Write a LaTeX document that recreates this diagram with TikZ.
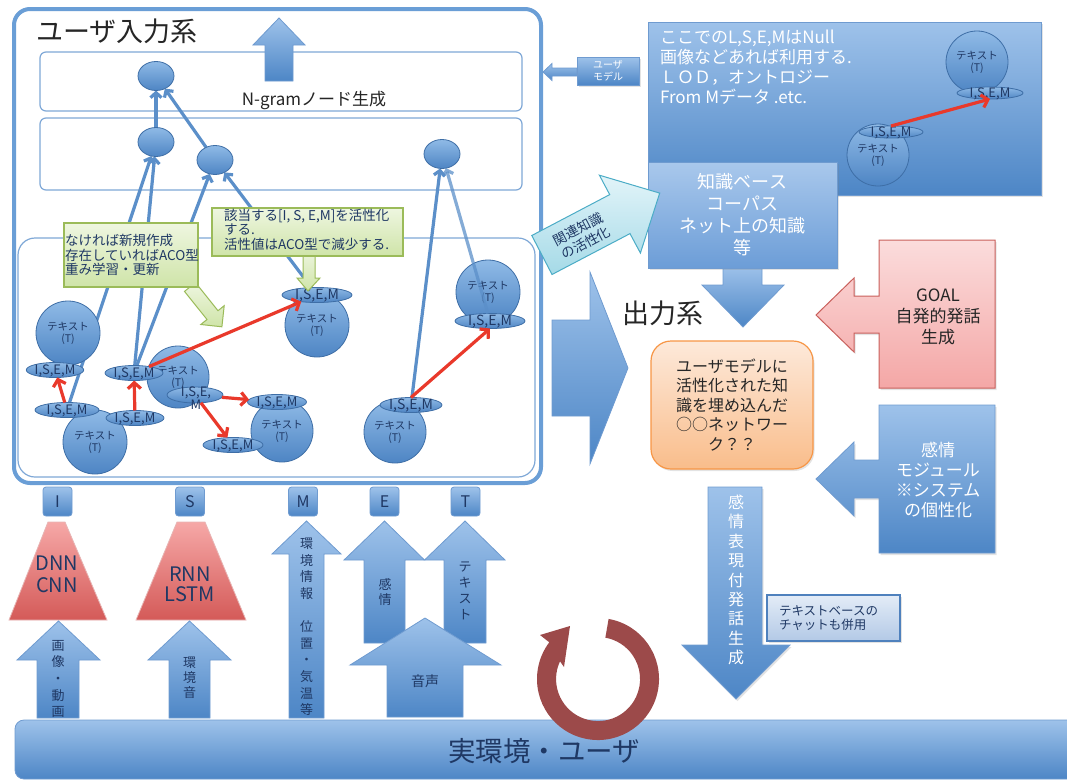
\documentclass[tikz,border=0pt]{standalone}
\usepackage{fontspec}
\setmainfont{Noto Sans CJK JP}
\usetikzlibrary{shapes.geometric,arrows.meta,shadows,calc}
\pgfdeclarelayer{bg}
\pgfdeclarelayer{links}
\pgfsetlayers{bg,links,main}

\definecolor{navy}{HTML}{1F3864}
\definecolor{darktext}{HTML}{262626}
\definecolor{frameblue}{HTML}{6A9ED6}
\definecolor{layeredge}{HTML}{7FA8D7}
\definecolor{linkblue}{HTML}{5B8FC9}
\definecolor{nodetop}{HTML}{8FBAE6}
\definecolor{nodebot}{HTML}{4E85C4}
\definecolor{nodeedge}{HTML}{3E6EA6}
\definecolor{boxtop}{HTML}{9EC2EA}
\definecolor{boxbot}{HTML}{4D86C6}
\definecolor{boxedge}{HTML}{6F9BD0}
\definecolor{kbtop}{HTML}{A9C8EC}
\definecolor{kbbot}{HTML}{6C9DD7}
\definecolor{redline}{HTML}{E9392B}
\definecolor{pinktop}{HTML}{FBDCDC}
\definecolor{pinkbot}{HTML}{F4A7A6}
\definecolor{pinkedge}{HTML}{C9605C}
\definecolor{trtop}{HTML}{F6A8A7}
\definecolor{trbot}{HTML}{D45A58}
\definecolor{tredge}{HTML}{E7B5B4}
\definecolor{greentop}{HTML}{EEF6E0}
\definecolor{greenbot}{HTML}{CFE4A8}
\definecolor{greenedge}{HTML}{9BBB59}
\definecolor{cyantop}{HTML}{E2F4F9}
\definecolor{cyanbot}{HTML}{A5DAE7}
\definecolor{cyanedge}{HTML}{4BACC6}
\definecolor{orangetop}{HTML}{FDE9DA}
\definecolor{orangebot}{HTML}{F9BD8B}
\definecolor{orangeedge}{HTML}{F79646}
\definecolor{chattop}{HTML}{E3ECF7}
\definecolor{chatbot}{HTML}{B3C9E6}
\definecolor{chatedge}{HTML}{4F81BD}
\definecolor{ringred}{HTML}{9C4A4A}

\tikzset{
  every node/.style={inner sep=0pt, outer sep=0pt},
  softshadow/.style={drop shadow={opacity=0.22, shadow xshift=1.5pt, shadow yshift=-2pt}},
  layerbox/.style={rectangle, draw=layeredge, line width=1.2pt, fill=white, rounded corners=6pt},
  bubble/.style={ellipse, minimum width=36pt, minimum height=29pt, top color=nodetop, bottom color=nodebot, draw=nodeedge, line width=0.8pt},
  textball/.style={circle, minimum size=#1, top color=nodetop, bottom color=nodebot, draw=nodeedge, line width=0.8pt, align=center, text=navy, font=\fontsize{10.5}{12}\selectfont},
  textball/.default=64pt,
  isem/.style={ellipse, minimum width=#1, minimum height=15pt, top color=nodetop, bottom color=nodebot, draw=nodeedge, line width=0.8pt, text=navy, font=\fontsize{13}{13}\selectfont, text height=8pt, text depth=0pt},
  isem/.default=60pt,
  link/.style={draw=linkblue, line width=3.2pt, -{Straight Barb[length=5pt,width=11pt]}},
  redarrow/.style={draw=redline, line width=3.2pt, -{Straight Barb[length=6pt,width=13pt]}},
  blockarrow/.style={top color=boxtop, bottom color=boxbot, draw=boxedge, line width=0.8pt, line join=miter},
  bluebox/.style={rectangle, top color=boxtop, bottom color=boxbot, draw=boxedge, line width=0.8pt},
  notebox/.style={rectangle, top color=greentop, bottom color=greenbot, draw=greenedge, line width=1.2pt},
  greenarrow/.style={top color=greentop, bottom color=greenbot, draw=greenedge, line width=1pt, line join=miter},
  vtext/.style={align=center, text=navy},
  tabbox/.style={rectangle, rounded corners=3pt, minimum width=29pt, minimum height=29pt, top color=boxtop, bottom color=boxbot, draw=boxedge, line width=0.8pt, text=navy, font=\fontsize{16}{16}\selectfont},
  trap/.style={top color=trtop, bottom color=trbot, draw=tredge, line width=0.8pt},
}

\begin{document}
\begin{tikzpicture}[x=1pt,y=-1pt]
\useasboundingbox (0,0) rectangle (1067,782);

% ===== user input system: frame and layers =====
\begin{pgfonlayer}{bg}
  \draw[line width=4pt, draw=frameblue, fill=white, rounded corners=16pt] (14,9) rectangle (541,483);
  \node[layerbox, minimum width=482pt, minimum height=59pt] (L1) at (281,81.5) {};
  \node[layerbox, minimum width=482pt, minimum height=72pt] (L2) at (281,154) {};
  \node[layerbox, rounded corners=17pt, minimum width=517pt, minimum height=239pt] (L3) at (276.5,357.5) {};
  \draw[blockarrow] (279,18) -- (305,45) -- (293,45) -- (293,81) -- (265,81) -- (265,45) -- (253,45) -- cycle;
\end{pgfonlayer}

\node[anchor=west, text=darktext, font=\fontsize{27}{27}\selectfont] (title) at (36,31) {ユーザ入力系};
\node[text=darktext, font=\fontsize{17}{17}\selectfont] (ngram) at (314,100) {N-gramノード生成};

% n-gram nodes
\node[bubble] (nT) at (156,76) {};
\node[bubble] (n2a) at (156,142) {};
\node[bubble] (n2b) at (215,160) {};
\node[bubble] (n2c) at (442,154) {};

% text nodes with their I,S,E,M attributes
\node[textball] (c1) at (68,333) {テキスト\\(T)};
\node[isem=56pt] (iA) at (55,370) {I,S,E,M};
\node[textball] (c2) at (95,442) {テキスト\\(T)};
\node[isem=64pt] (iB) at (67,410) {I,S,E,M};
\node[isem=58pt] (iD) at (135,418) {I,S,E,M};
\node[textball=62pt] (c3) at (178,377) {テキスト\\(T)};
\node[isem=58pt] (iC) at (134,373) {I,S,E,M};
\node[isem=56pt, minimum height=16pt] (iE) at (195,395) {};
\node[text=navy, align=center, font=\fontsize{13}{13}\selectfont] (iElabel) at (196,398) {I,S,E,\\M};
\node[textball=62pt] (c4) at (282,431) {テキスト\\(T)};
\node[isem=59pt] (iF) at (277,402) {I,S,E,M};
\node[isem=60pt] (iG) at (233,445) {I,S,E,M};
\node[textball] (c5) at (317,325) {テキスト\\(T)};
\node[isem=70pt, font=\fontsize{14}{14}\selectfont] (iH) at (317,295) {I,S,E,M};
\node[textball] (c6) at (488,292) {テキスト\\(T)};
\node[isem=70pt, font=\fontsize{14}{14}\selectfont] (iJ) at (490,321) {I,S,E,M};
\node[textball=62pt] (c7) at (395,432) {テキスト\\(T)};
\node[isem=61pt, font=\fontsize{14}{14}\selectfont] (iK) at (411,405) {I,S,E,M};

% upward links
\begin{pgfonlayer}{links}
  \draw[link] (n2a) -- (nT);
  \draw[link] (n2b) -- (nT);
  \draw[link] (iB) -- (n2a);
  \draw[link] (iC) -- (n2a);
  \draw[link] (iC) -- (n2b);
  \draw[link] (iH) -- (n2b);
  \draw[link] (iK) -- (n2c);
\end{pgfonlayer}
\draw[link, opacity=0.75] (iJ) -- (n2c);

% notes
\draw[greenarrow] (195.5,282.6) -- (218,310.7) -- (224.2,305.7) -- (221.9,326.8) -- (200.8,324.5) -- (207,319.5) -- (184.5,291.4) -- cycle;
\node[notebox, minimum width=134pt, minimum height=64pt] (note1) at (131,255) {};
\node[anchor=north west, align=left, text=navy, font=\fontsize{13.5}{14.5}\selectfont] (note1text) at (65,234.5) {なければ新規作成\\存在していればACO型\\重み学習・更新};
\draw[greenarrow] (303,250) -- (315,250) -- (315,278) -- (320,278) -- (308,291) -- (297,278) -- (303,278) -- cycle;
\node[notebox, minimum width=191pt, minimum height=48pt] (note2) at (307.5,232) {};
\node[anchor=north west, align=left, text=navy, font=\fontsize{13.5}{14.5}\selectfont] (note2text) at (224,209) {該当する[I, S, E,M]を活性化\\する.\\活性値はACO型で減少する.};

% activation arrows
\draw[redarrow] (iB) -- (iA);
\draw[redarrow] (iD) -- (iC);
\draw[redarrow] (iC) -- (iH);
\draw[redarrow] (iE) -- (iF);
\draw[redarrow] (iE) -- (iG);
\draw[redarrow] (iK.north) -- (iJ.south);

% ===== knowledge side =====
\node[bluebox, softshadow, minimum width=393pt, minimum height=173pt] (info) at (844.5,108.5) {};
\node[anchor=north west, align=left, text=white, font=\fontsize{17}{20.3}\selectfont] (infotext) at (660,29.5) {ここでのL,S,E,MはNull\\画像などあれば利用する.\\ＬＯＤ，オントロジー\\From Mデータ .etc.};
\node[textball=62pt] (kc1) at (977,62) {テキスト\\(T)};
\node[isem=66pt, minimum height=12pt] (ki1) at (990,93) {I,S,E,M};
\node[textball=62pt] (kc2) at (878,155) {テキスト\\(T)};
\node[isem=64pt, minimum height=12pt] (ki2) at (891,132) {I,S,E,M};
\draw[redarrow] (ki2.north) -- (ki1.south);

\draw[blockarrow] (723,266) -- (762,266) -- (762,285) -- (784,285) -- (743,327) -- (702,285) -- (723,285) -- cycle;
\node[rectangle, top color=kbtop, bottom color=kbbot, draw=boxedge, line width=0.8pt, softshadow, minimum width=189pt, minimum height=106pt, align=center, text=white, font=\fontsize{18}{22}\selectfont] (kb) at (742.5,215) {知識ベース\\コーパス\\ネット上の知識\\等};

\draw[blockarrow] (577,68) -- (552,68) -- (552,63.5) -- (543,72) -- (552,80.5) -- (552,76) -- (577,76) -- cycle;
\node[bluebox, softshadow, minimum width=62pt, minimum height=28pt, align=center, text=white, font=\fontsize{10}{12.5}\selectfont] (umodel) at (608,71) {ユーザ\\モデル};

\draw[top color=cyantop, bottom color=cyanbot, draw=cyanedge, line width=1pt, line join=miter] (552,274.5) -- (630,233.6) -- (640.4,253) -- (659.7,193.1) -- (599.4,175.2) -- (609.7,194.6) -- (531.8,235.5) -- cycle;
\node[rotate=27.7, align=center, text=navy, font=\fontsize{13.5}{15.5}\selectfont] (relknow) at (582,236) {関連知識\\の活性化};

% ===== output system =====
\draw[blockarrow] (552,320) -- (590,320) -- (590,272) -- (628,368) -- (590,464) -- (590,416) -- (552,416) -- cycle;
\node[anchor=west, text=darktext, font=\fontsize{27}{27}\selectfont] (outtitle) at (622,313) {出力系};

\node[rectangle, rounded corners=20pt, top color=orangetop, bottom color=orangebot, draw=orangeedge, line width=1.2pt, softshadow, minimum width=162pt, minimum height=128pt, align=center, text=darktext, font=\fontsize{16}{19.5}\selectfont] (outnet) at (732,405) {ユーザモデルに\\活性化された知\\識を埋め込んだ\\○○ネットワー\\ク？？};

\draw[top color=pinktop, bottom color=pinkbot, draw=pinkedge, line width=1pt, softshadow, line join=miter] (879,240) -- (995,240) -- (995,388) -- (879,388) -- (879,333) -- (854,333) -- (854,352) -- (816,315) -- (854,278) -- (854,296) -- (879,296) -- cycle;
\node[align=center, text=darktext, font=\fontsize{17}{21}\selectfont] (goal) at (938,317) {GOAL\\自発的発話\\生成};

\draw[blockarrow, softshadow] (879,405) -- (995,405) -- (995,553) -- (879,553) -- (879,498) -- (854,498) -- (854,516) -- (816,479) -- (854,442) -- (854,460) -- (879,460) -- cycle;
\node[align=center, text=white, font=\fontsize{17}{19.8}\selectfont] (emo) at (938,480) {感情\\モジュール\\※システム\\の個性化};

\draw[blockarrow, softshadow] (708,487) -- (762,487) -- (762,645) -- (790,645) -- (736,699) -- (682,645) -- (708,645) -- cycle;
\node[align=center, text=white, font=\fontsize{16}{19.4}\selectfont] (gen) at (736,580) {感\\情\\表\\現\\付\\発\\話\\生\\成};

\node[rectangle, top color=chattop, bottom color=chatbot, draw=chatedge, line width=1.2pt, softshadow, minimum width=133pt, minimum height=46pt] (chat) at (833.5,618) {};
\node[anchor=west, align=left, text=navy, font=\fontsize{12.5}{13.5}\selectfont] (chattext) at (779,618) {テキストベースの\\チャットも併用};

% ===== real environment =====
\node[rectangle, rounded corners=9pt, top color=boxtop, bottom color=boxbot, draw=boxedge, line width=0.8pt, minimum width=1072pt, minimum height=59pt] (ground) at (551,749.5) {};
\node[text=navy, font=\fontsize{27.5}{27.5}\selectfont] (groundtext) at (544,751) {実環境・ユーザ};

% loop arrow
\fill[ringred] (598,679) ++(-80:61) arc[start angle=-80, end angle=217, radius=61] -- (540,635) -- (570,626) -- (564,667) -- (560,661.3) arc[start angle=205, end angle=-80, radius=42] -- cycle;

% input channels
\node[tabbox] (tI) at (57.5,501.5) {I};
\node[tabbox] (tS) at (190,501.5) {S};
\node[tabbox] (tM) at (303,501.5) {M};
\node[tabbox] (tE) at (384.5,501.5) {E};
\node[tabbox] (tT) at (465.5,501.5) {T};

\draw[trap] (48,522) -- (65,522) -- (107,620) -- (9,620) -- cycle;
\node[align=center, text=navy, font=\fontsize{20}{22}\selectfont] (dnn) at (57,574) {DNN\\CNN};
\draw[trap] (177,522) -- (205,522) -- (246,620) -- (136,620) -- cycle;
\node[align=center, text=navy, font=\fontsize{20}{20}\selectfont] (rnn) at (190,584) {RNN\\LSTM};

\draw[blockarrow] (37,718) -- (37,660) -- (17,660) -- (58.5,621) -- (100,660) -- (79,660) -- (79,718) -- cycle;
\node[vtext, font=\fontsize{13}{16.7}\selectfont] (img) at (58,679) {画\\像\\・\\動\\画};
\draw[blockarrow] (169,718) -- (169,660) -- (148,660) -- (189.5,621) -- (231,660) -- (210,660) -- (210,718) -- cycle;
\node[vtext, font=\fontsize{13}{15}\selectfont] (snd) at (189.5,678) {環\\境\\音};
\draw[blockarrow] (289,718) -- (289,554) -- (272,554) -- (306.5,521) -- (341,554) -- (324,554) -- (324,718) -- cycle;
\node[vtext, font=\fontsize{13}{16.6}\selectfont] (env) at (306.5,627) {環\\境\\情\\報\\[16.6pt]位\\置\\・\\気\\温\\等};
\draw[blockarrow] (364,643) -- (364,560) -- (344,560) -- (384.5,521) -- (424.5,560) -- (405,560) -- (405,643) -- cycle;
\node[vtext, font=\fontsize{13}{14.5}\selectfont] (emoin) at (385,592) {感\\情};
\draw[blockarrow] (444,643) -- (444,560) -- (424.5,560) -- (465,521) -- (505,560) -- (486,560) -- (486,643) -- cycle;
\node[vtext, font=\fontsize{13}{16}\selectfont] (txtin) at (465,591) {テ\\キ\\ス\\ト};
\draw[blockarrow] (387,717) -- (387,665) -- (350,665) -- (425,618) -- (501,665) -- (463,665) -- (463,717) -- cycle;
\node[text=navy, font=\fontsize{14}{14}\selectfont] (voice) at (425,681) {音声};

\end{tikzpicture}
\end{document}
